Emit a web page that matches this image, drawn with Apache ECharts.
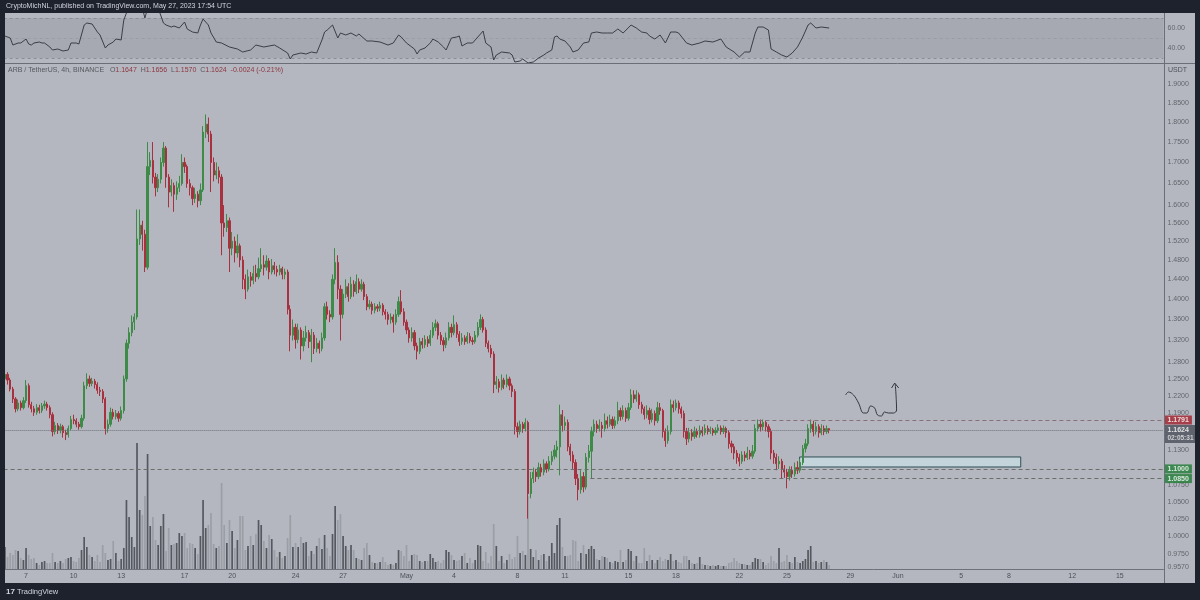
<!DOCTYPE html>
<html><head><meta charset="utf-8">
<script src="https://cdn.jsdelivr.net/npm/echarts@6/dist/echarts.min.js"></script>
<style>html,body{margin:0;padding:0;background:#1e222d}#c{width:1200px;height:600px}</style>
</head><body><div id="c"></div><script>
// ARB/USDT 4h candles, starting 2023-04-05 16:00 UTC
const firstOpen = 1.250;
const closes = [
1.258,1.248,1.232,1.215,1.198,1.208,1.200,1.212,1.238,1.205,
1.198,1.192,1.200,1.195,1.203,1.206,1.200,1.188,1.160,1.170,
1.162,1.168,1.158,1.155,1.165,1.180,1.178,1.172,1.168,1.182,
1.238,1.250,1.242,1.246,1.240,1.230,1.228,1.215,1.165,1.172,
1.192,1.185,1.190,1.182,1.195,1.250,1.315,1.335,1.355,1.365,
1.525,1.555,1.535,1.465,1.690,1.705,1.665,1.640,1.660,1.700,
1.735,1.665,1.630,1.645,1.625,1.640,1.650,1.700,1.690,1.650,
1.640,1.615,1.625,1.610,1.635,1.775,1.795,1.770,1.700,1.670,
1.680,1.665,1.560,1.550,1.565,1.505,1.520,1.495,1.510,1.480,
1.440,1.420,1.445,1.438,1.452,1.445,1.462,1.470,1.465,1.478,
1.455,1.468,1.460,1.455,1.462,1.450,1.455,1.380,1.330,1.345,
1.322,1.340,1.310,1.325,1.335,1.318,1.330,1.305,1.315,1.305,
1.325,1.385,1.370,1.365,1.440,1.475,1.420,1.370,1.410,1.425,
1.405,1.430,1.415,1.435,1.420,1.430,1.405,1.385,1.390,1.378,
1.385,1.382,1.388,1.375,1.370,1.360,1.365,1.355,1.370,1.395,
1.375,1.355,1.340,1.325,1.335,1.310,1.300,1.318,1.312,1.322,
1.315,1.330,1.345,1.352,1.330,1.320,1.312,1.325,1.345,1.335,
1.350,1.332,1.318,1.325,1.318,1.328,1.320,1.318,1.330,1.345,
1.360,1.340,1.315,1.305,1.295,1.240,1.245,1.235,1.248,1.240,
1.250,1.238,1.228,1.168,1.160,1.172,1.165,1.175,1.062,1.085,
1.095,1.088,1.102,1.095,1.108,1.100,1.112,1.120,1.130,1.135,
1.188,1.170,1.175,1.135,1.122,1.110,1.085,1.068,1.088,1.072,
1.118,1.128,1.160,1.172,1.165,1.170,1.165,1.178,1.172,1.180,
1.170,1.178,1.195,1.185,1.195,1.182,1.200,1.222,1.215,1.222,
1.205,1.198,1.188,1.195,1.180,1.190,1.178,1.200,1.195,1.160,
1.145,1.160,1.205,1.200,1.208,1.198,1.190,1.160,1.148,1.158,
1.152,1.160,1.155,1.162,1.158,1.165,1.160,1.163,1.158,1.162,
1.166,1.160,1.165,1.158,1.140,1.135,1.125,1.118,1.112,1.122,
1.118,1.125,1.120,1.128,1.165,1.172,1.168,1.175,1.168,1.160,
1.125,1.118,1.108,1.112,1.100,1.095,1.088,1.098,1.092,1.102,
1.098,1.110,1.132,1.140,1.165,1.172,1.160,1.168,1.158,1.165,
1.160,1.1647,1.1624];
const highs = [
1.268,1.262,1.252,1.236,1.218,1.214,1.212,1.218,1.248,1.242,
1.210,1.203,1.206,1.205,1.208,1.212,1.210,1.204,1.192,1.176,
1.174,1.173,1.171,1.163,1.170,1.186,1.188,1.182,1.176,1.188,
1.245,1.260,1.256,1.252,1.250,1.244,1.236,1.232,1.218,1.180,
1.200,1.198,1.196,1.194,1.202,1.256,1.322,1.345,1.368,1.372,
1.590,1.590,1.565,1.545,1.750,1.725,1.750,1.675,1.672,1.712,
1.750,1.740,1.672,1.660,1.652,1.655,1.668,1.720,1.712,1.695,
1.660,1.645,1.640,1.632,1.650,1.790,1.820,1.812,1.778,1.712,
1.700,1.690,1.672,1.600,1.580,1.572,1.540,1.530,1.535,1.515,
1.488,1.450,1.460,1.455,1.468,1.470,1.485,1.505,1.490,1.490,
1.484,1.482,1.476,1.468,1.470,1.466,1.462,1.460,1.388,1.360,
1.352,1.352,1.345,1.338,1.348,1.340,1.342,1.336,1.325,1.320,
1.335,1.392,1.395,1.378,1.450,1.505,1.490,1.428,1.420,1.440,
1.432,1.445,1.438,1.450,1.442,1.440,1.435,1.410,1.398,1.395,
1.392,1.390,1.395,1.392,1.380,1.375,1.372,1.370,1.380,1.405,
1.418,1.382,1.360,1.345,1.345,1.340,1.316,1.325,1.325,1.330,
1.328,1.340,1.355,1.360,1.356,1.336,1.326,1.335,1.355,1.352,
1.368,1.355,1.338,1.334,1.330,1.336,1.334,1.326,1.338,1.355,
1.370,1.365,1.345,1.320,1.312,1.300,1.255,1.250,1.258,1.252,
1.258,1.254,1.242,1.232,1.175,1.178,1.176,1.182,1.178,1.095,
1.102,1.100,1.110,1.108,1.115,1.112,1.120,1.128,1.138,1.145,
1.205,1.196,1.185,1.180,1.140,1.128,1.115,1.092,1.098,1.095,
1.125,1.138,1.168,1.180,1.178,1.180,1.176,1.190,1.185,1.188,
1.185,1.185,1.210,1.200,1.204,1.200,1.208,1.232,1.230,1.230,
1.226,1.210,1.202,1.204,1.200,1.198,1.195,1.210,1.208,1.198,
1.165,1.170,1.214,1.212,1.214,1.212,1.202,1.195,1.166,1.166,
1.164,1.168,1.165,1.170,1.168,1.172,1.170,1.168,1.166,1.167,
1.172,1.170,1.170,1.168,1.162,1.145,1.140,1.130,1.124,1.128,
1.128,1.135,1.130,1.138,1.172,1.180,1.180,1.180,1.178,1.172,
1.165,1.130,1.124,1.120,1.116,1.106,1.100,1.104,1.104,1.110,
1.112,1.116,1.138,1.148,1.172,1.180,1.178,1.176,1.172,1.172,
1.170,1.170,1.1656];
const lows = [
1.245,1.240,1.228,1.208,1.192,1.194,1.195,1.197,1.208,1.200,
1.192,1.186,1.188,1.190,1.191,1.198,1.195,1.182,1.152,1.155,
1.156,1.157,1.150,1.146,1.150,1.162,1.172,1.167,1.163,1.165,
1.178,1.232,1.236,1.237,1.233,1.224,1.220,1.208,1.155,1.158,
1.168,1.180,1.180,1.176,1.178,1.190,1.245,1.305,1.328,1.340,
1.360,1.512,1.500,1.455,1.460,1.670,1.650,1.620,1.630,1.650,
1.690,1.640,1.595,1.620,1.585,1.612,1.630,1.645,1.675,1.640,
1.622,1.600,1.605,1.595,1.600,1.630,1.760,1.750,1.630,1.655,
1.660,1.650,1.490,1.530,1.540,1.455,1.490,1.475,1.485,1.465,
1.420,1.400,1.415,1.425,1.430,1.435,1.440,1.455,1.448,1.458,
1.440,1.450,1.450,1.446,1.448,1.440,1.440,1.370,1.300,1.320,
1.305,1.315,1.285,1.300,1.318,1.306,1.280,1.295,1.298,1.296,
1.300,1.320,1.360,1.355,1.360,1.430,1.400,1.320,1.362,1.402,
1.395,1.400,1.405,1.410,1.412,1.415,1.398,1.378,1.380,1.370,
1.372,1.375,1.376,1.368,1.360,1.350,1.352,1.335,1.350,1.365,
1.370,1.348,1.332,1.316,1.318,1.302,1.285,1.295,1.305,1.306,
1.308,1.310,1.325,1.338,1.322,1.312,1.300,1.306,1.320,1.326,
1.330,1.325,1.310,1.312,1.312,1.314,1.315,1.312,1.314,1.326,
1.340,1.335,1.308,1.298,1.288,1.225,1.232,1.226,1.230,1.232,
1.235,1.230,1.218,1.155,1.150,1.155,1.158,1.160,1.025,1.055,
1.078,1.080,1.084,1.088,1.090,1.094,1.096,1.106,1.115,1.118,
1.090,1.160,1.162,1.128,1.112,1.100,1.075,1.052,1.062,1.064,
1.068,1.110,1.085,1.152,1.158,1.160,1.150,1.160,1.165,1.168,
1.164,1.165,1.172,1.178,1.180,1.176,1.178,1.196,1.208,1.210,
1.198,1.190,1.180,1.182,1.172,1.175,1.170,1.174,1.188,1.150,
1.135,1.140,1.155,1.192,1.195,1.190,1.182,1.150,1.138,1.142,
1.145,1.148,1.150,1.150,1.152,1.154,1.155,1.156,1.153,1.154,
1.158,1.155,1.156,1.150,1.132,1.125,1.115,1.108,1.104,1.108,
1.112,1.114,1.115,1.116,1.124,1.160,1.160,1.162,1.160,1.150,
1.115,1.108,1.098,1.100,1.085,1.086,1.070,1.082,1.086,1.088,
1.092,1.094,1.106,1.126,1.136,1.158,1.152,1.155,1.150,1.154,
1.154,1.156,1.1570];
const volumes = [
22,12,16,14,19,18,11,9,21,14,
10,11,6,4,7,8,6,6,16,7,
6,8,6,10,11,12,8,7,11,19,
32,22,14,12,8,14,7,24,16,9,
10,28,16,8,10,21,69,52,32,22,
126,59,54,73,115,43,52,29,24,43,
55,18,41,24,25,26,36,33,36,21,
26,25,21,15,33,69,41,44,56,25,
21,23,86,44,26,49,38,21,29,53,
53,19,23,33,24,35,49,44,28,21,
34,30,19,12,17,11,13,31,54,22,
26,22,32,26,27,13,18,15,23,31,
20,34,21,13,35,63,49,55,33,23,
19,24,19,11,10,9,21,26,14,7,
6,6,7,12,7,4,5,4,6,19,
18,13,24,8,14,15,14,8,7,8,
8,15,11,7,8,6,9,19,17,14,
9,8,9,13,16,6,11,6,9,24,
23,8,17,6,13,45,23,8,13,6,
9,15,10,12,33,16,18,14,73,20,
12,19,9,14,15,8,13,26,16,44,
51,22,13,13,14,29,28,8,16,24,
15,20,23,20,10,9,13,12,11,7,
6,8,7,19,7,9,20,18,8,13,
6,6,21,8,14,9,6,9,12,8,
10,9,15,8,9,7,6,13,13,9,
6,5,6,12,5,4,4,3,4,3,
4,3,3,3,6,7,11,8,6,5,
5,4,4,7,11,10,10,7,4,6,
13,8,6,21,7,8,14,7,6,12,
7,6,8,10,19,23,7,8,6,7,
9,7,4];
// RSI readings [candle index, value]
const rsiPoints = [[0,52],[2,50],[3,43],[5,45],[6,45],[8,49],[9,44],[10,43],[11,45],[13,46],[14,45],[15,45],[17,41],[18,38],[20,39],[22,37],[24,38],[25,45],[27,45],[28,44],[30,63],[31,65],[33,64],[35,56],[36,53],[38,40],[39,43],[41,46],[42,49],[44,48],[45,68],[46,75],[47,80],[50,84],[52,80],[53,70],[54,80],[58,80],[60,65],[61,63],[63,61],[64,62],[66,60],[68,66],[69,59],[71,56],[73,55],[74,63],[75,69],[77,63],[78,55],[80,46],[82,45],[85,41],[88,39],[90,36],[93,38],[95,43],[98,41],[100,42],[102,43],[104,40],[107,35],[108,29],[109,33],[112,35],[114,34],[116,36],[118,35],[120,48],[121,56],[122,58],[124,63],[126,50],[127,55],[129,53],[131,55],[133,52],[134,54],[137,47],[139,47],[142,46],[145,43],[147,45],[149,53],[150,51],[152,45],[155,39],[156,34],[157,38],[159,40],[161,45],[162,49],[164,46],[166,41],[167,38],[169,50],[171,51],[172,52],[173,42],[175,45],[177,45],[179,51],[181,57],[182,45],[184,41],[185,28],[186,33],[188,36],[191,35],[192,33],[193,26],[195,27],[196,29],[198,25],[200,26],[202,30],[204,33],[205,35],[207,38],[208,51],[209,52],[210,49],[212,47],[214,41],[215,36],[217,38],[219,45],[221,46],[222,55],[224,56],[226,55],[228,55],[230,55],[232,59],[234,55],[237,63],[239,60],[241,56],[243,55],[244,52],[246,49],[248,53],[250,45],[252,56],[254,56],[255,55],[258,45],[260,43],[263,45],[265,47],[268,46],[271,49],[273,41],[276,36],[278,31],[280,36],[282,36],[284,55],[285,61],[287,61],[289,58],[290,39],[292,36],[294,33],[296,31],[298,35],[300,41],[302,51],[304,63],[305,65],[307,60],[309,61],[312,60]];
const priceTicks = [1.9,1.85,1.8,1.75,1.7,1.65,1.6,1.56,1.52,1.48,1.44,1.4,1.36,1.32,1.28,1.25,1.22,1.19,1.13,1.075,1.05,1.025,1.0,0.975,0.957];
const rsiTicks = [60,40];
const dayTicks = [['2023-04-07','7'],['2023-04-10','10'],['2023-04-13','13'],['2023-04-17','17'],['2023-04-20','20'],['2023-04-24','24'],['2023-04-27','27'],['2023-05-01','May'],['2023-05-04','4'],['2023-05-08','8'],['2023-05-11','11'],['2023-05-15','15'],['2023-05-18','18'],['2023-05-22','22'],['2023-05-25','25'],['2023-05-29','29'],['2023-06-01','Jun'],['2023-06-05','5'],['2023-06-08','8'],['2023-06-12','12'],['2023-06-15','15']];
const resistanceLevel = 1.1791;
const lastPrice = 1.1624;
const supportLevels = [1.1000, 1.0850];
const countdown = '02:05:31';
// drawings in [candle index, price]
const resistanceStart = 258.7;
const support2Start = 221.6;
const demandBox = [[300.8, 1.1188],[384.5, 1.1030]];
const arrowPath = [[318.2,1.2218],[319.3,1.2269],[321.2,1.2218],[323.1,1.2080],[325.0,1.1909],[326.2,1.1909],[327.7,1.2028],[329.2,1.1994],[330.3,1.1875],[331.8,1.1859],[332.9,1.1926],[334.4,1.1909],[336.3,1.1909],[337.5,1.1960],[337.0,1.2410]];
const arrowHead = [[335.6,1.2340],[336.8,1.2427],[338.3,1.2340]];

const slotCount = 439;
const startTime = Date.UTC(2023,3,5,16);
const cats = [];
for (let i=0;i<slotCount;i++){ cats.push(new Date(startTime+i*4*3600e3).toISOString().slice(0,13).replace('T',' ')+':00'); }
const tickMap = {};
dayTicks.forEach(([d,l]) => { tickMap[d+' 00:00'] = l; });

const ohlc = closes.map((c,i)=>[i?closes[i-1]:firstOpen, c, lows[i], highs[i]]);
const UP='#3d8b47', DN='#a8313f';
const volData = volumes.map((v,i)=>({value:v, itemStyle:{color: ohlc[i][1]>=ohlc[i][0] ? '#55585f' : '#9b9ea6'}}));

const PMIN=0.9542, PMAX=1.9552;
const L=3.6, R=36.6;
const FONT='"Liberation Sans", Arial, sans-serif';
const chart = echarts.init(document.getElementById('c'));
const axisEnd = slotCount-0.5;
chart.setOption({
  backgroundColor:'#b4b7bf',
  animation:false,
  textStyle:{fontFamily:FONT},
  grid:[
    {left:L,right:R,top:64,height:505},
    {left:L,right:R,top:440,height:129},
    {left:L,right:R,top:13,height:50},
    {left:1164,width:31,top:64,height:505},
    {left:1164,width:31,top:13,height:50}
  ],
  xAxis:[
    {type:'category',gridIndex:0,data:cats,show:false},
    {type:'category',gridIndex:1,data:cats,axisLine:{lineStyle:{color:'#6e7179'}},axisTick:{show:false},
     axisLabel:{interval:(i,v)=>tickMap[v]!==undefined, formatter:v=>tickMap[v]||'', color:'#4d5058', fontSize:7, margin:4, fontFamily:FONT}},
    {type:'value',gridIndex:0,min:-0.5,max:axisEnd,show:false},
    {type:'value',gridIndex:2,min:-0.5,max:axisEnd,show:false},
    {type:'value',gridIndex:3,min:0,max:1,show:false},
    {type:'value',gridIndex:4,min:0,max:1,show:false}
  ],
  yAxis:[
    {type:'log',gridIndex:0,min:PMIN,max:PMAX,show:false},
    {type:'value',gridIndex:1,min:0,max:129,show:false},
    {type:'value',gridIndex:2,min:25,max:75,show:false},
    {type:'log',gridIndex:3,min:PMIN,max:PMAX,show:false},
    {type:'value',gridIndex:4,min:25,max:75,show:false}
  ],
  series:[
    {type:'bar',xAxisIndex:1,yAxisIndex:1,data:volData,barWidth:1.7,silent:true},
    {type:'candlestick',xAxisIndex:0,yAxisIndex:0,data:ohlc,barWidth:1.7,silent:true,
     itemStyle:{color:UP,color0:DN,borderColor:UP,borderColor0:DN,borderWidth:1}},
    {type:'line',xAxisIndex:2,yAxisIndex:0,data:arrowPath,showSymbol:false,smooth:0.4,silent:true,
     lineStyle:{color:'#33363d',width:1},z:5,
     markLine:{silent:true,symbol:['none','none'],label:{show:false},data:[
       [{coord:[-0.5,lastPrice],lineStyle:{type:'dotted',color:'#6c6f77',width:1}},{coord:[axisEnd,lastPrice]}],
       [{coord:[resistanceStart,resistanceLevel],lineStyle:{type:[4,3],color:'#86707a',width:1}},{coord:[axisEnd,resistanceLevel]}],
       [{coord:[-0.5,supportLevels[0]],lineStyle:{type:[4,3],color:'#687069',width:1}},{coord:[axisEnd,supportLevels[0]]}],
       [{coord:[support2Start,supportLevels[1]],lineStyle:{type:[4,3],color:'#687069',width:1}},{coord:[axisEnd,supportLevels[1]]}]
     ]},
     markArea:{silent:true,data:[[{coord:demandBox[0],itemStyle:{color:'#c3d4da',borderColor:'#2f4e54',borderWidth:1}},{coord:demandBox[1]}]]}
    },
    {type:'line',xAxisIndex:2,yAxisIndex:0,data:arrowHead,showSymbol:false,silent:true,lineStyle:{color:'#33363d',width:1},z:5},
    {type:'line',xAxisIndex:3,yAxisIndex:2,data:rsiPoints,showSymbol:false,silent:true,clip:true,
     lineStyle:{color:'#3b3e46',width:1},z:5,
     markArea:{silent:true,data:[[{yAxis:70,itemStyle:{color:'#a6a9b1'}},{yAxis:30}]]},
     markLine:{silent:true,symbol:['none','none'],label:{show:false},data:[
       {yAxis:70,lineStyle:{type:[3,3],color:'#8b8e96',width:1}},
       {yAxis:50,lineStyle:{type:[3,3],color:'#9a9da5',width:1}},
       {yAxis:30,lineStyle:{type:[3,3],color:'#8b8e96',width:1}}
     ]}
    },
    {type:'scatter',xAxisIndex:4,yAxisIndex:3,symbolSize:1,itemStyle:{color:'rgba(0,0,0,0)'},silent:true,
     data:priceTicks.map(v=>[0,v]),
     label:{show:true,position:'right',distance:3,formatter:p=>p.value[1].toFixed(4),color:'#4d5058',fontSize:7,fontFamily:FONT}},
    {type:'scatter',xAxisIndex:5,yAxisIndex:4,symbolSize:1,itemStyle:{color:'rgba(0,0,0,0)'},silent:true,
     data:rsiTicks.map(v=>[0,v]),
     label:{show:true,position:'right',distance:3,formatter:p=>p.value[1].toFixed(2),color:'#4d5058',fontSize:7,fontFamily:FONT}},
    {type:'scatter',xAxisIndex:4,yAxisIndex:3,symbolSize:1,itemStyle:{color:'rgba(0,0,0,0)'},silent:true,z:10,
     label:{show:true,position:'right',distance:0,color:'#ffffff',fontSize:7,fontWeight:'bold',padding:[1,3,1,3],fontFamily:FONT,
            formatter:p=>p.value[1].toFixed(4)},
     data:[
       {value:[0,resistanceLevel],label:{backgroundColor:'#a3202c'}},
       {value:[0,supportLevels[0]],label:{backgroundColor:'#1f7a34'}},
       {value:[0,supportLevels[1]],label:{backgroundColor:'#1f7a34'}},
       {value:[0,lastPrice],label:{backgroundColor:'#4a4e59',offset:[0,4],
         formatter:'{a|'+lastPrice.toFixed(4)+'}\n{b|'+countdown+'}',
         rich:{a:{color:'#fff',fontSize:7,fontWeight:'bold',lineHeight:8,fontFamily:FONT},b:{color:'#e8e9ec',fontSize:6.5,lineHeight:8,fontFamily:FONT}}}}
     ]}
  ],
  graphic:[
    {type:'rect',z:100,shape:{x:0,y:0,width:1200,height:13},style:{fill:'#1e222d'}},
    {type:'rect',z:100,shape:{x:0,y:0,width:5,height:600},style:{fill:'#1e222d'}},
    {type:'rect',z:100,shape:{x:1195,y:0,width:5,height:600},style:{fill:'#1e222d'}},
    {type:'rect',z:100,shape:{x:0,y:583,width:1200,height:17},style:{fill:'#1e222d'}},
    {type:'line',z:90,shape:{x1:5,y1:63.5,x2:1195,y2:63.5},style:{stroke:'#6b6e76',lineWidth:1}},
    {type:'line',z:90,shape:{x1:1164.5,y1:13,x2:1164.5,y2:583},style:{stroke:'#6b6e76',lineWidth:1}},
    {type:'text',z:101,style:{x:6,y:6.5,verticalAlign:'middle',text:'CryptoMichNL, published on TradingView.com, May 27, 2023 17:54 UTC',fill:'#d1d4dc',fontSize:7,fontFamily:FONT}},
    {type:'text',z:101,style:{x:8,y:70,verticalAlign:'middle',fontSize:7,fontFamily:FONT,
      text:'{g|ARB / TetherUS, 4h, BINANCE}   {g|O}{r|1.1647}  {g|H}{r|1.1656}  {g|L}{r|1.1570}  {g|C}{r|1.1624}  {r|-0.0024 (-0.21%)}',
      rich:{g:{fill:'#55585f',fontSize:7,fontFamily:FONT},r:{fill:'#8e3641',fontSize:7,fontFamily:FONT}}}},
    {type:'text',z:101,style:{x:1168,y:70,verticalAlign:'middle',text:'USDT',fill:'#4d5058',fontSize:7,fontFamily:FONT}},
    {type:'text',z:101,style:{x:6,y:592,verticalAlign:'middle',text:'{l|17} TradingView',fill:'#d1d4dc',fontSize:7.5,fontFamily:FONT,
      rich:{l:{fill:'#d1d4dc',fontSize:8,fontWeight:'bold',fontFamily:FONT}}}}
  ]
});
</script></body></html>
